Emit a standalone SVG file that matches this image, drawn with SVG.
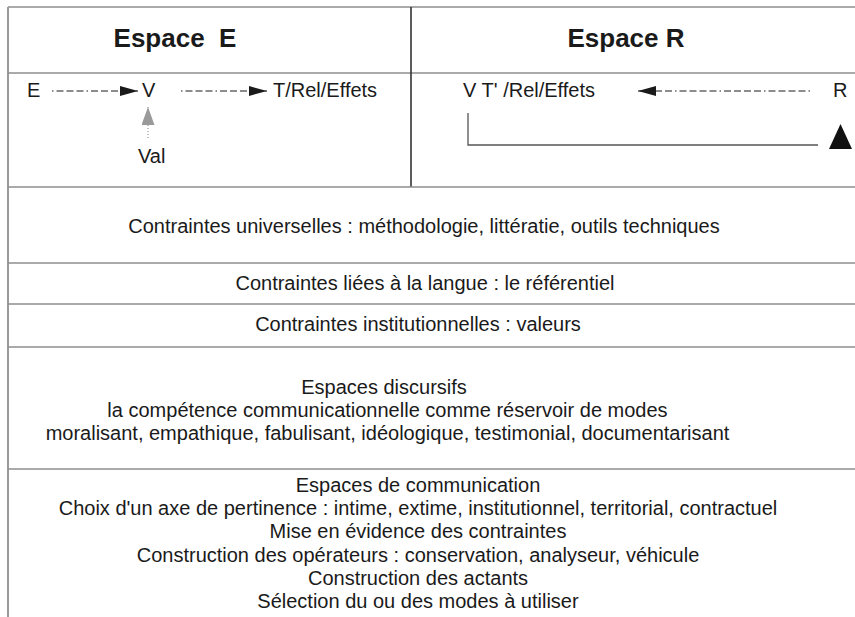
<svg xmlns="http://www.w3.org/2000/svg" width="855" height="617" viewBox="0 0 855 617">
  <style>
    .t { font-family: "Liberation Sans", Arial, sans-serif; font-size: 20px; fill: #1a1a1a; }
    .c { text-anchor: middle; }
    .h { font-family: "Liberation Sans", Arial, sans-serif; font-size: 26px; font-weight: bold; fill: #1a1a1a; text-anchor: middle; }
    .grid { stroke: #8e8e8e; stroke-width: 1.6; fill: none; }
    .div { stroke: #333; stroke-width: 1.6; fill: none; }
    .dd { stroke: #1a1a1a; stroke-width: 1; fill: none; stroke-dasharray: 1.5 3 7 3 7 3 7 3; }
    .gd { stroke: #9a9a9a; stroke-width: 1.2; fill: none; stroke-dasharray: 1 2; }
  </style>
  <defs>
    <marker id="ah" markerUnits="userSpaceOnUse" viewBox="0 0 18 10" refX="18" refY="5" markerWidth="18" markerHeight="10" orient="auto">
      <path d="M0,0 L18,5 L0,10 z" fill="#1a1a1a"/>
    </marker>
    <marker id="ahg" markerUnits="userSpaceOnUse" viewBox="0 0 18 13" refX="18" refY="6.5" markerWidth="18" markerHeight="13" orient="auto">
      <path d="M0,0 L18,6.5 L0,13 z" fill="#9a9a9a"/>
    </marker>
  </defs>
  <rect width="855" height="617" fill="#fff"/>

  <g id="frame">
    <line class="grid" x1="8" y1="7" x2="855" y2="7"/>
    <line class="grid" x1="8" y1="7" x2="8" y2="617" style="stroke:#9a9a9a;stroke-width:2"/>
    <line class="grid" x1="8" y1="73" x2="855" y2="73"/>
    <line class="div" x1="411" y1="7" x2="411" y2="187"/>
    <line class="grid" x1="8" y1="187" x2="855" y2="187"/>
    <line class="grid" x1="8" y1="263" x2="855" y2="263"/>
    <line class="grid" x1="8" y1="304" x2="855" y2="304"/>
    <line class="grid" x1="8" y1="347" x2="855" y2="347"/>
    <line class="grid" x1="8" y1="469" x2="855" y2="469"/>
  </g>

  <g id="espace-e">
    <text class="h" x="175" y="47">Espace&#160; E</text>
  </g>
  <g id="espace-r">
    <text class="h" x="626" y="47">Espace R</text>
  </g>

  <g id="node-E"><text class="t" x="27" y="97">E</text></g>
  <g id="node-V"><text class="t" x="142" y="97">V</text></g>
  <g id="node-T"><text class="t" x="273" y="97">T/Rel/Effets</text></g>
  <g id="node-Val"><text class="t" x="138" y="163">Val</text></g>
  <g id="node-VT"><text class="t" x="463" y="97">V T' /Rel/Effets</text></g>
  <g id="node-R"><text class="t" x="833" y="97">R</text></g>

  <g id="connectors">
    <line class="dd" x1="52" y1="91" x2="138" y2="91" marker-end="url(#ah)"/>
    <line class="dd" x1="181" y1="91" x2="267" y2="91" marker-end="url(#ah)"/>
    <line class="gd" x1="148" y1="138" x2="148" y2="107" marker-end="url(#ahg)"/>
    <line class="dd" x1="810" y1="91" x2="638" y2="91" marker-end="url(#ah)" style="stroke-dasharray: 1.5 3 7 3 7 3 7 3 7 3"/>
    <path d="M468,113 V145 H818" fill="none" stroke="#555" stroke-width="1.3"/>
    <polygon points="840.5,124 852,149 829,149" fill="#111"/>
  </g>

  <g id="contraintes-universelles">
    <text class="t c" x="424" y="233">Contraintes universelles : méthodologie, littératie, outils techniques</text>
  </g>
  <g id="contraintes-langue">
    <text class="t c" x="425" y="290">Contraintes liées à la langue : le référentiel</text>
  </g>
  <g id="contraintes-institutionnelles">
    <text class="t c" x="418" y="331">Contraintes institutionnelles : valeurs</text>
  </g>
  <g id="espaces-discursifs">
    <text class="t c" x="384" y="394">Espaces discursifs</text>
    <text class="t c" x="387.5" y="417">la compétence communicationnelle comme réservoir de modes</text>
    <text class="t c" x="387.5" y="440">moralisant, empathique, fabulisant, idéologique, testimonial, documentarisant</text>
  </g>
  <g id="espaces-communication">
    <text class="t c" x="418" y="492">Espaces de communication</text>
    <text class="t c" x="418" y="515">Choix d'un axe de pertinence : intime, extime, institutionnel, territorial, contractuel</text>
    <text class="t c" x="418" y="538">Mise en évidence des contraintes</text>
    <text class="t c" x="418" y="562">Construction des opérateurs : conservation, analyseur, véhicule</text>
    <text class="t c" x="418" y="585">Construction des actants</text>
    <text class="t c" x="418" y="608">Sélection du ou des modes à utiliser</text>
  </g>
</svg>
